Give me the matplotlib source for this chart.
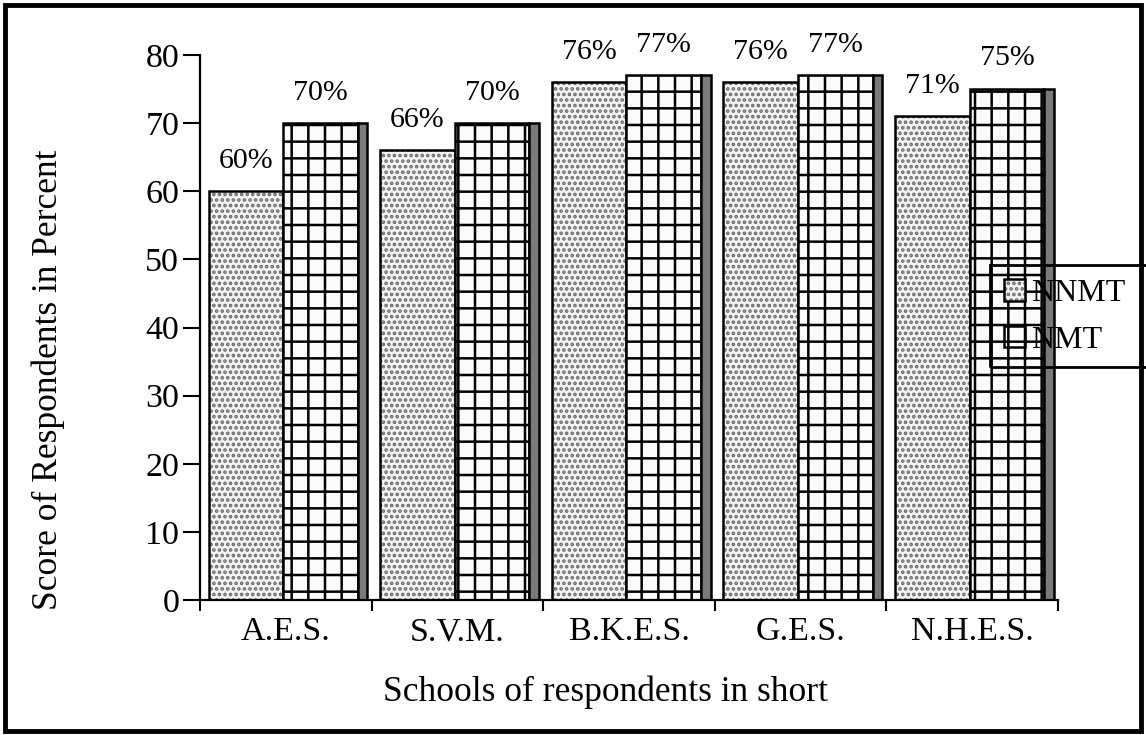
import matplotlib
matplotlib.use("Agg")
import matplotlib.pyplot as plt
from matplotlib.patches import Rectangle, Patch
import numpy as np

categories = ["A.E.S.", "S.V.M.", "B.K.E.S.", "G.E.S.", "N.H.E.S."]
nnmt = [60, 66, 76, 76, 71]
nmt = [70, 70, 77, 77, 75]
yticks = [0, 10, 20, 30, 40, 50, 60, 70, 80]

plt.rcParams['font.family'] = ['Liberation Serif', 'DejaVu Serif']
plt.rcParams['hatch.linewidth'] = 1.8

fig = plt.figure(figsize=(11.46, 7.35), dpi=100)
ax = fig.add_axes([200/1146, 1-600/735, 858/1146, 545/735])

DOT_FACE = '#f4f4f4'
DOT_COLOR = (0.42, 0.42, 0.42, 1.0)

x = np.arange(len(categories))
b1 = ax.bar(x + 0.05, nnmt, width=0.435, align='edge', facecolor=DOT_FACE,
            edgecolor='black', linewidth=1.8, hatch='...', zorder=2)
for p in b1:
    p._hatch_color = DOT_COLOR
b2 = ax.bar(x + 0.485, nmt, width=0.435, align='edge', facecolor='#fbfbfb',
            edgecolor='black', linewidth=1.8, hatch='+', zorder=2)
ax.bar(x + 0.92, nmt, width=0.055, align='edge', facecolor='#7a7a7a',
       edgecolor='black', linewidth=1.8, zorder=2)

for xi, v in zip(x, nnmt):
    ax.annotate(f"{v}%", (xi + 0.05 + 0.435/2, v), xytext=(0, 17),
                textcoords='offset points', ha='center', va='baseline', fontsize=21.5)
for xi, v in zip(x, nmt):
    ax.annotate(f"{v}%", (xi + 0.485 + 0.435/2, v), xytext=(0, 17),
                textcoords='offset points', ha='center', va='baseline', fontsize=21.5)

ax.set_xlim(0, 5)
ax.set_ylim(0, 80)
ax.set_yticks(yticks)
ax.set_yticklabels([str(t) for t in yticks], fontsize=24.5)
ax.set_xticks(np.arange(0, 6))
ax.set_xticklabels([])
ax.set_xticks(x + 0.5, minor=True)
ax.set_xticklabels(categories, minor=True, fontsize=24.5)
ax.tick_params(axis='x', which='major', direction='out', length=8, width=1.5)
ax.tick_params(axis='x', which='minor', length=0, pad=12)
ax.tick_params(axis='y', direction='out', length=12, width=1.5, pad=3)
for s in ['top', 'right']:
    ax.spines[s].set_visible(False)
for s in ['left', 'bottom']:
    ax.spines[s].set_linewidth(1.6)
ax.patch.set_visible(False)

fig.text(606/1146, 1-692/735, "Schools of respondents in short", ha='center',
         va='center', fontsize=25.5)
fig.text(48/1146, 1-380/735, "Score of Respondents in Percent", ha='center',
         va='center', rotation=90, fontsize=25.5)

h1 = Patch(facecolor=DOT_FACE, edgecolor='black', hatch='...', linewidth=1.8)
h1._hatch_color = DOT_COLOR
handles = [h1, Patch(facecolor='white', edgecolor='black', hatch='+', linewidth=1.8)]
leg = fig.legend(handles, ["NNMT", "NMT"], loc='upper left',
                 bbox_to_anchor=(990/1146, 1-265/735), fontsize=23,
                 frameon=False,
                 handlelength=0.65, handleheight=0.65, handletextpad=0.2,
                 borderpad=0.45, labelspacing=0.55, borderaxespad=0)
# legend frame running off the right edge, as in the source
fig.patches.append(Rectangle((990/1146, 1-367/735), 170/1146, 102/735,
                             transform=fig.transFigure, fill=False,
                             edgecolor='black', linewidth=2.0))

fig.patches.append(Rectangle((5/1146, 4/735), 1136/1146, 726/735,
                             transform=fig.transFigure, fill=False,
                             edgecolor='black', linewidth=3.5))

fig.savefig("out.png", dpi=100)
